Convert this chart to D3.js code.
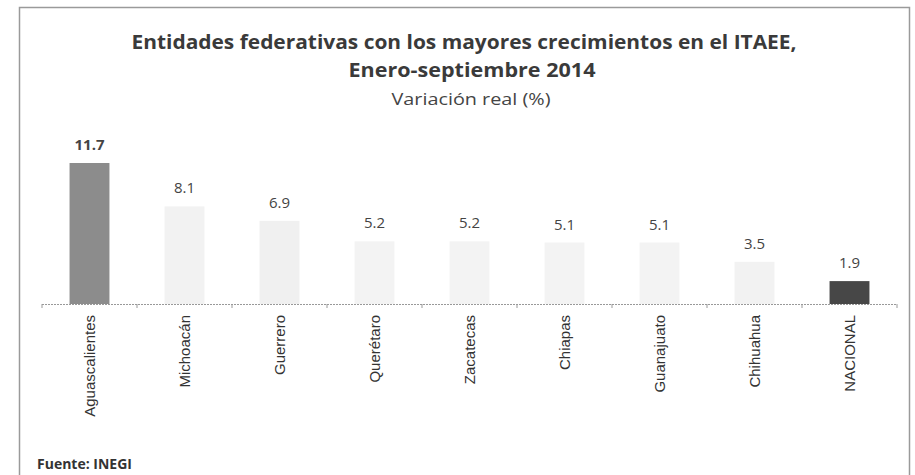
<!DOCTYPE html>
<html>
<head>
<meta charset="utf-8">
<script src="https://cdn.jsdelivr.net/npm/d3@7"></script>
<style>
  body { margin: 0; background: #fff; }
  text { font-family: "Open Sans", "Noto Sans", sans-serif; }
</style>
</head>
<body>
<div id="viz"></div>
<script>
// data
const categories = ["Aguascalientes", "Michoacán", "Guerrero", "Querétaro", "Zacatecas",
  "Chiapas", "Guanajuato", "Chihuahua", "NACIONAL"];
const values = [11.7, 8.1, 6.9, 5.2, 5.2, 5.1, 5.1, 3.5, 1.9];
const barColors = ["#8c8c8c", "#f2f2f2", "#f0f0f0", "#f3f3f3", "#f3f3f3",
  "#f3f3f3", "#f3f3f3", "#f2f2f2", "#474747"];

const W = 915, H = 475;
const svg = d3.select("#viz").append("svg")
  .attr("width", W)
  .attr("height", H);

// outer frame (bottom edge is off the picture)
svg.append("path")
  .attr("d", "M19.5," + (H + 5) + " V7.5 H909.5 V" + (H + 5))
  .attr("fill", "none")
  .attr("stroke", "#9a9a9a")
  .attr("stroke-width", 1.5);

// titles
svg.append("text")
  .attr("x", 464).attr("y", 49)
  .attr("text-anchor", "middle")
  .attr("textLength", 665).attr("lengthAdjust", "spacingAndGlyphs")
  .style("font-size", "20px").style("font-weight", "bold")
  .attr("fill", "#3a3a3a")
  .text("Entidades federativas con los mayores crecimientos en el ITAEE,");
svg.append("text")
  .attr("x", 472).attr("y", 77)
  .attr("text-anchor", "middle")
  .attr("textLength", 247).attr("lengthAdjust", "spacingAndGlyphs")
  .style("font-size", "20px").style("font-weight", "bold")
  .attr("fill", "#3a3a3a")
  .text("Enero-septiembre 2014");
svg.append("text")
  .attr("x", 471).attr("y", 105)
  .attr("text-anchor", "middle")
  .attr("textLength", 159).attr("lengthAdjust", "spacingAndGlyphs")
  .style("font-size", "17px")
  .attr("fill", "#444")
  .text("Variación real (%)");

// scales
const x = d3.scaleBand().domain(categories).range([42, 897]).paddingInner(0.58).paddingOuter(0.29);
const y = d3.scaleLinear().domain([0, 11.7]).range([304, 163]);

// bars
svg.append("g").selectAll("rect")
  .data(categories)
  .join("rect")
  .attr("x", d => x(d))
  .attr("width", x.bandwidth())
  .attr("y", (d, i) => y(values[i]))
  .attr("height", (d, i) => y(0) - y(values[i]))
  .attr("fill", (d, i) => barColors[i]);

// value labels
svg.append("g").selectAll("text")
  .data(categories)
  .join("text")
  .attr("x", d => x(d) + x.bandwidth() / 2)
  .attr("y", (d, i) => y(values[i]) - 13)
  .attr("text-anchor", "middle")
  .style("font-size", "15px")
  .style("font-weight", (d, i) => i === 0 ? "bold" : "normal")
  .attr("fill", "#444")
  .text((d, i) => values[i].toFixed(1));

// x axis line with category boundary ticks
const xAxis = svg.append("g");
xAxis.append("line")
  .attr("x1", 42).attr("x2", 897)
  .attr("y1", y(0) + 0.5).attr("y2", y(0) + 0.5)
  .attr("stroke", "#999").attr("stroke-width", 1.2)
  .attr("stroke-dasharray", "2,1");
const step = x.step();
xAxis.selectAll("line.tick")
  .data(d3.range(categories.length + 1))
  .join("line")
  .attr("class", "tick")
  .attr("x1", i => 42 + i * step).attr("x2", i => 42 + i * step)
  .attr("y1", y(0)).attr("y2", y(0) + 4)
  .attr("stroke", "#999");

// category labels
svg.append("g").selectAll("text")
  .data(categories)
  .join("text")
  .attr("transform", d => "translate(" + (x(d) + x.bandwidth() / 2 + 5) + "," + (y(0) + 11) + ") rotate(-90)")
  .attr("text-anchor", "end")
  .style("font-family", "'Liberation Sans', Arial, sans-serif")
  .style("font-size", "15px")
  .attr("fill", "#333")
  .text(d => d);

// source
svg.append("text")
  .attr("x", 37).attr("y", 469)
  .style("font-size", "14px").style("font-weight", "bold")
  .attr("fill", "#333")
  .text("Fuente: INEGI");
</script>
</body>
</html>
